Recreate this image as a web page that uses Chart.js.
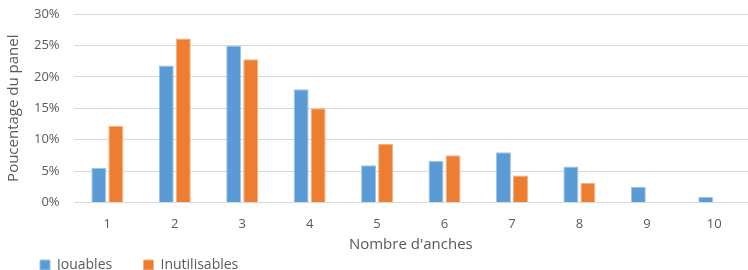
<!DOCTYPE html>
<html><head>
<meta charset="UTF-8">
<script src="https://cdn.jsdelivr.net/npm/chart.js"></script>
<style>
  html, body { margin: 0; padding: 0; background: #fff; }
  #wrap { width: 748px; height: 270px; }
</style>
</head><body>
<div id="wrap"><canvas id="c"></canvas></div>
<script>
const categories = ['1', '2', '3', '4', '5', '6', '7', '8', '9', '10'];
const jouables = [5.5, 21.8, 25.0, 18.0, 5.9, 6.6, 8.0, 5.7, 2.5, 0.9];
const inutilisables = [12.2, 26.1, 22.8, 15.0, 9.3, 7.5, 4.3, 3.1, 0, 0];
const yTicks = [0, 5, 10, 15, 20, 25, 30];

const FONT = 'Open Sans, sans-serif';

// pousse la légende vers la droite comme dans l'original
const legendShift = {
  id: 'legendShift',
  afterLayout(chart) {
    chart.legend.left += 27;
  }
};

new Chart(document.getElementById('c'), {
  type: 'bar',
  data: {
    labels: categories,
    datasets: [
      { label: 'Jouables', data: jouables, backgroundColor: '#5B9BD5', borderColor: '#9DC3E6', borderWidth: 1 },
      { label: 'Inutilisables', data: inutilisables, backgroundColor: '#ED7D31', borderColor: '#F4B183', borderWidth: 1 }
    ]
  },
  options: {
    responsive: true,
    maintainAspectRatio: false,
    animation: false,
    datasets: { bar: { categoryPercentage: 0.505, barPercentage: 0.88 } },
    layout: { padding: { top: 0, left: 5, right: 0, bottom: -12 } },
    plugins: {
      legend: {
        position: 'bottom',
        align: 'start',
        labels: {
          boxWidth: 10, boxHeight: 10, padding: 8,
          color: '#595959',
          font: { family: FONT, size: 14 },
          // espace plus large entre les deux entrées
          generateLabels(chart) {
            const items = Chart.defaults.plugins.legend.labels.generateLabels(chart);
            items[0].text += '\u2003\u2002\u2009';
            return items;
          }
        }
      },
      tooltip: { enabled: false }
    },
    scales: {
      x: {
        grid: { display: false, drawTicks: false },
        border: { display: false },
        ticks: { color: '#595959', font: { family: FONT, size: 13 }, padding: 14 },
        title: { display: true, text: "Nombre d'anches", color: '#595959', font: { family: FONT, size: 15 }, padding: { top: -10, bottom: -4 } }
      },
      y: {
        min: 0, max: 30,
        afterBuildTicks(axis) { axis.ticks = yTicks.map(v => ({ value: v })); },
        // la marge haute vient sinon du padding des ticks
        afterFit(axis) { axis.paddingTop = 14; },
        grid: { color: '#D9D9D9', lineWidth: 1, drawTicks: false },
        border: { display: false },
        ticks: { color: '#595959', font: { family: FONT, size: 13 }, padding: 14, callback: v => v + '%' },
        title: { display: true, text: 'Poucentage du panel', color: '#595959', font: { family: FONT, size: 15 }, padding: { top: 0, bottom: -3 } }
      }
    }
  },
  plugins: [legendShift]
});
</script>
</body></html>
